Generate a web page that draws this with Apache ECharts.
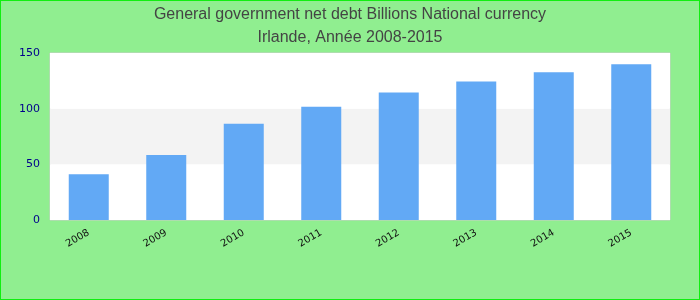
<!DOCTYPE html>
<html><head><meta charset="utf-8">
<script src="https://cdn.jsdelivr.net/npm/echarts@6/dist/echarts.min.js"></script>
<style>
html,body{margin:0;padding:0;}
#wrap{width:700px;height:300px;box-sizing:border-box;border:1px solid #11ee11;background:#90ee90;}
#c{width:698px;height:298px;}
</style></head>
<body><div id="wrap"><div id="c"></div></div>
<script>
const titleLines = ['General government net debt Billions National currency', 'Irlande, Année 2008-2015'];
const categories = ['2008','2009','2010','2011','2012','2013','2014','2015'];
const values = [41, 58.3, 86.4, 101.8, 114.5, 124.5, 132.7, 140];
const yMin = 0, yMax = 150, yInterval = 50;

const chart = echarts.init(document.getElementById('c'));
chart.setOption({
  animation: false,
  title: {
    text: titleLines.join('\n'),
    left: 'center', top: -3,
    textStyle: {fontFamily: 'Liberation Sans', fontSize: 16, fontWeight: 'normal', color: '#444', lineHeight: 23}
  },
  grid: {left: 49, right: 29, top: 52, bottom: 79, show: true, borderColor: '#ccc', borderWidth: 1, backgroundColor: '#fff'},
  xAxis: {
    type: 'category', data: categories,
    axisLine: {show: false}, axisTick: {show: false},
    axisLabel: {rotate: 30, fontSize: 10, color: '#111', fontFamily: 'DejaVu Sans', margin: 12}
  },
  yAxis: {
    type: 'value', min: yMin, max: yMax, interval: yInterval,
    axisLine: {show: false}, axisTick: {show: false},
    splitLine: {show: false},
    splitArea: {show: true, areaStyle: {color: ['#ffffff', '#f3f3f3']}},
    axisLabel: {fontSize: 11, color: '#00008b', fontFamily: 'DejaVu Sans', margin: 10}
  },
  series: [{type: 'bar', data: values, barWidth: 40, itemStyle: {color: '#62a9f5'}}]
});
</script></body></html>
